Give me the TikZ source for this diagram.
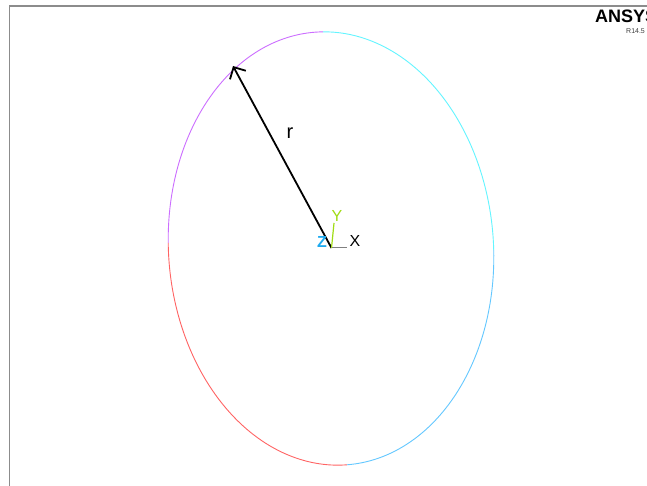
\documentclass[tikz,border=0pt]{standalone}
\usepackage{fontspec}
\setmainfont{Liberation Sans}
\usetikzlibrary{arrows.meta}
\definecolor{qviolet}{RGB}{204,110,255}
\definecolor{qcyan}{RGB}{100,245,255}
\definecolor{qblue}{RGB}{100,200,255}
\definecolor{qred}{RGB}{255,100,100}
\definecolor{framegray}{RGB}{140,140,140}
\definecolor{ygreen}{RGB}{160,220,20}
\definecolor{zblue}{RGB}{30,170,240}
\tikzset{
  quarter/.style={line width=0.9pt},
  framebox/.style={draw=framegray, line width=1.4pt},
  axlabel/.style={inner sep=0pt, font=\fontsize{16}{16}\selectfont},
}
\begin{document}
\begin{tikzpicture}[x=1pt,y=1pt]
\useasboundingbox (0,0) rectangle (647,486);
\fill[white] (0,0) rectangle (647,486);
% frame
\draw[framebox] (9.5,0) -- (9.5,480) -- (648,480);
% logo
\node[anchor=base west, inner sep=0pt, font=\fontsize{18}{18}\selectfont\bfseries] (logo) at (595,463.5) {ANSYS};
\node[anchor=base west, inner sep=0pt, font=\fontsize{7}{7}\selectfont, text=darkgray] (rel) at (626,452) {R14.5};
% ellipse in four coloured quarters
\begin{scope}[shift={(331,237.5)}, rotate=4]
  \draw[quarter, qcyan] ({162.5*cos(-3.4)},{216.9*sin(-3.4)}) arc[start angle=-3.4, end angle=87.5, x radius=162.5, y radius=216.9];
  \draw[quarter, qviolet] ({162.5*cos(87.5)},{216.9*sin(87.5)}) arc[start angle=87.5, end angle=175.5, x radius=162.5, y radius=216.9];
  \draw[quarter, qred] ({162.5*cos(175.5)},{216.9*sin(175.5)}) arc[start angle=175.5, end angle=270.3, x radius=162.5, y radius=216.9];
  \draw[quarter, qblue] ({162.5*cos(270.3)},{216.9*sin(270.3)}) arc[start angle=270.3, end angle=356.6, x radius=162.5, y radius=216.9];
\end{scope}
% origin and radius arrow
\coordinate (O) at (331.5,238);
\coordinate (P) at (233,420);
\draw[line width=1.8pt, -{Straight Barb[length=9pt,width=18pt,line width=1.8pt]}] (O) -- (P);
\node[font=\fontsize{20}{20}\selectfont, inner sep=0pt] (r) at (290,353) {r};
% triad
\coordinate (Yend) at (334,263);
\coordinate (Xend) at (347,238);
\draw[ygreen, line width=1.2pt] (O) -- (Yend);
\draw[gray, line width=1pt] (O) -- (Xend);
\node[axlabel, text=ygreen] (ly) at (337,270) {Y};
\node[axlabel, text=black] (lx) at (355,245) {X};
\node[axlabel, text=zblue, font=\fontsize{16}{16}\selectfont\bfseries] (lz) at (322,244) {Z};
\end{tikzpicture}
\end{document}
